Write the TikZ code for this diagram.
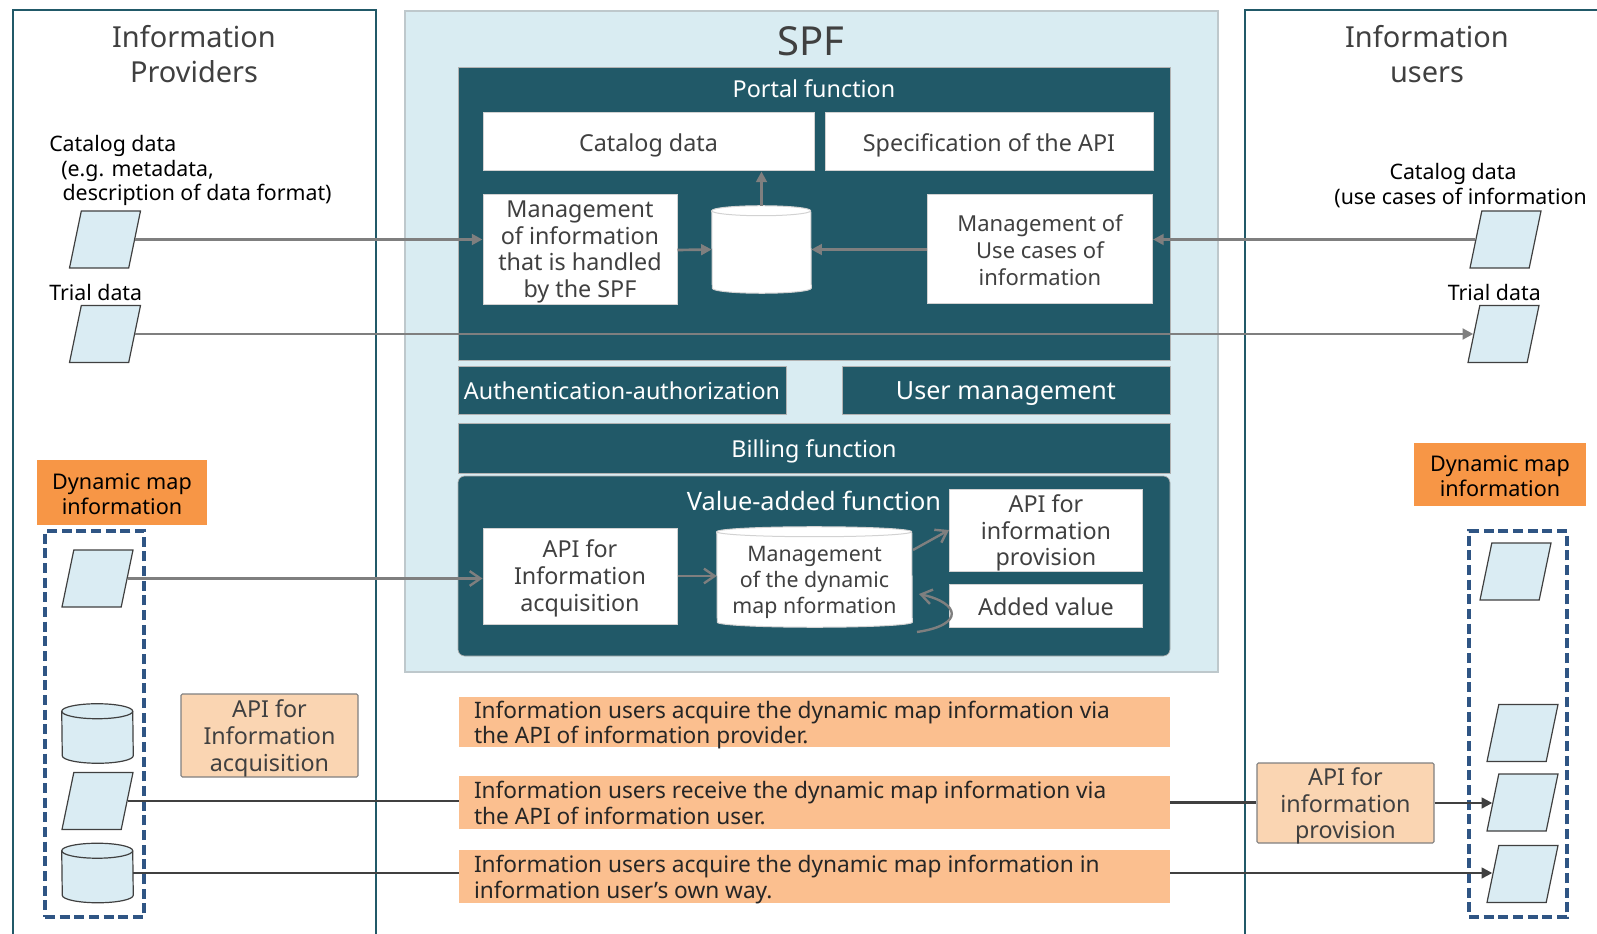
\documentclass[tikz,border=0pt]{standalone}
\usepackage{fontspec}
\setmainfont{Noto Sans}
\usetikzlibrary{arrows.meta,shapes.geometric}
\definecolor{panelteal}{RGB}{33,89,104}
\definecolor{spfblue}{RGB}{217,236,242}
\definecolor{spfedge}{RGB}{190,200,204}
\definecolor{databox}{RGB}{218,236,243}
\definecolor{dashblue}{RGB}{47,85,132}
\definecolor{tagorange}{RGB}{247,150,70}
\definecolor{stripOrange}{RGB}{251,191,143}
\definecolor{peach}{RGB}{250,213,178}
\definecolor{textgrey}{RGB}{64,64,64}
\definecolor{linegrey}{RGB}{127,127,127}
\tikzset{
  boxsize/.style 2 args={minimum width=#1*0.75pt,minimum height=#2*0.75pt,inner sep=0pt},
  evenline/.style={execute at begin node={\rule{0pt}{#1}},execute at end node={\rule[-5pt]{0pt}{5pt}}},
  evenline/.default=20pt,
  txt/.style={font=\fontsize{17.5}{20}\selectfont,align=center,evenline},
  threelines/.style={evenline=58.7pt},
  fourlines/.style={evenline=76.5pt},
  dark/.style 2 args={txt,boxsize={#1}{#2},fill=panelteal,draw=gray!60,line width=0.5pt,text=white},
  whitebox/.style={txt,fill=white,draw=gray!35,line width=0.75pt,text=textgrey},
  heading/.style={font=\fontsize{21.7}{26.5}\selectfont,align=center,text=textgrey},
  label/.style={font=\fontsize{16}{18.4}\selectfont,align=left,text=black,inner sep=0pt},
  datapara/.style={trapezium,trapezium left angle=76,trapezium right angle=104,trapezium stretches=true,
    boxsize={71}{57},inner sep=2pt,fill=databox,draw=black!75,line width=0.9pt},
  datalook/.style={fill=databox,draw=black!75,line width=0.9pt},
  whitelook/.style={fill=white,draw=gray!35,line width=0.75pt},
  tag/.style={txt,evenline=38pt,font=\fontsize{16.2}{18.8}\selectfont,fill=tagorange,text=black},
  strip/.style={boxsize={711}{#1},fill=stripOrange},
  striptext/.style={font=\fontsize{17}{19}\selectfont,align=left,text=black!85,inner xsep=15*0.75pt,inner ysep=0pt,anchor=west,evenline=37.5pt},
  apibox/.style={fill=peach,draw=gray,line width=0.8pt,rounded corners=1pt},
  overtext/.style={txt,threelines,inner sep=0pt,text=textgrey},
  dashbox/.style={draw=dashblue,line width=2.3pt,dash pattern=on 7.5pt off 3.5pt},
  flow/.style={draw=linegrey,line width=2pt,-{Triangle[length=8pt,width=8pt]}},
  open/.style={draw=linegrey,line width=1.8pt,-{Straight Barb[length=8pt,width=11pt]}},
  feed/.style={draw=black!75,line width=1.8pt},
}
\newcommand{\drumpath}[4]{% node, x radius, y radius, look
  \path (#1.north west) ++(0,#3) coordinate (#1top) (#1.south east) ++(0,-#3) coordinate (#1foot);
  \draw [#4] (#1top) arc [start angle=180,delta angle=180,x radius=#2,y radius=#3] -- (#1foot)
    arc [start angle=0,delta angle=180,x radius=#2,y radius=#3] -- cycle;
  \draw [#4,fill=none] (#1top) arc [start angle=180,delta angle=-180,x radius=#2,y radius=#3];
}
\begin{document}
\begin{tikzpicture}[x=0.75pt,y=0.75pt,yscale=-1,xscale=1]
\useasboundingbox (0,0) rectangle (1597,934);

% side panels
\draw [draw=panelteal,line width=2.2pt] (13,934) -- (13,10) -- (376,10) -- (376,934);
\draw [draw=panelteal,line width=2.2pt] (1245,934) -- (1245,10) -- (1597,10);
% SPF
\draw [fill=spfblue,draw=spfedge,line width=1.5pt] (404.5,11) rectangle (1218,672);

% Text Node
\node (spfTitle) [heading,font=\fontsize{30}{32}\selectfont] at (811,41) {SPF};
\node (providersTitle) [heading] at (194,54) {Information\\Providers};
\node (usersTitle) [heading] at (1427,54) {Information\\users};

% portal block
\node (portal) [dark={712}{293}] at (814,213.5) {};
\node (portalTitle) [txt,text=white] at (814,88) {Portal function};
\node (catalogBox) [whitebox,boxsize={331}{58}] at (648.5,142) {Catalog data};
\node (specBox) [whitebox,boxsize={328}{58}] at (989,142) {Specification of the API};
\node (mgmtInfo) [whitebox,fourlines,boxsize={194}{110}] at (580,250) {Management\\of information\\that is handled\\by the SPF};
\node (portalStore) [boxsize={99}{87}] at (761.5,249.5) {};
\drumpath{portalStore}{49.5}{5}{whitelook}
\node (useCases) [whitebox,threelines,boxsize={225}{109},font=\fontsize{16.5}{20}\selectfont] at (1040,249.5) {Management of\\Use cases of\\information};

% middle bars
\node (authBar) [dark={328}{48}] at (622,390) {Authentication-authorization};
\node (userBar) [dark={328}{48},font=\fontsize{18.8}{20}\selectfont] at (1006,390) {User management};
\node (billBar) [dark={712}{50}] at (814,448) {Billing function};

% value-added block
\node (valueBlock) [dark={712}{180},rounded corners=5pt] at (814,566) {};
\node (valueTitle) [txt,text=white,font=\fontsize{19}{20}\selectfont] at (814,500) {Value-added function};
\node (apiAcq) [whitebox,threelines,boxsize={194}{96},font=\fontsize{17.5}{20.5}\selectfont] at (580,576) {API for\\Information\\acquisition};
\node (dynStore) [boxsize={195}{100}] at (814.5,577) {};
\drumpath{dynStore}{97.5}{5}{whitelook}
\node (dynStoreText) [txt,evenline=60.4pt,text=textgrey,font=\fontsize{16}{19.5}\selectfont] at (dynStore) {Management\\of the dynamic\\map nformation};
\node (apiProv) [fill=white,draw=gray!35,line width=0.75pt,boxsize={193}{82}] at (1046,530) {};
\node (apiProvText) [overtext] at (apiProv) {API for\\information\\provision};
\node (addedVal) [whitebox,boxsize={193}{43}] at (1046,605.5) {Added value};

% providers
\node (catalogLeft) [label,anchor=north west] at (49,135) {Catalog data\\\hspace*{9pt}(e.g. metadata,\\\hspace*{10pt}description of data format)};
\node (trialLeft) [label,anchor=west] at (49,293) {Trial data};
\node (paraLeftA) [datapara] at (105,239.5) {};
\node (paraLeftB) [datapara] at (105,334) {};
\node (tagLeft) [tag,boxsize={170}{65}] at (122,492.5) {Dynamic map\\information};
\node (dashLeft) [dashbox,boxsize={99}{386}] at (94.5,724) {};
\node (paraLeftC) [datapara] at (97.5,578.5) {};
\node (cylLeftA) [boxsize={71}{59}] at (97.5,733.5) {};
\drumpath{cylLeftA}{35.5}{7.5}{datalook}
\node (paraLeftD) [datapara] at (97.5,801) {};
\node (cylLeftB) [boxsize={71}{59}] at (97.5,873) {};
\drumpath{cylLeftB}{35.5}{7.5}{datalook}
\node (apiLeft) [apibox,boxsize={177}{83}] at (269.5,735.5) {};
\node (apiLeftText) [overtext] at (apiLeft) {API for\\Information\\acquisition};

% users
\node (catalogRight) [label,align=center] at (1453,174) {Catalog data};
\node (catalogRightB) [label,anchor=east] at (1587,198) {(use cases of information};
\node (trialRight) [label,anchor=east] at (1541,293) {Trial data};
\node (paraRightA) [datapara] at (1505.5,239.5) {};
\node (paraRightB) [datapara] at (1503.5,334) {};
\node (tagRight) [tag,boxsize={172}{63}] at (1500,474.5) {Dynamic map\\information};
\node (dashRight) [dashbox,boxsize={98}{386}] at (1518,724) {};
\node (paraRightC) [datapara] at (1515.5,571.5) {};
\node (paraRightD) [datapara] at (1522.5,733) {};
\node (paraRightE) [datapara] at (1522.5,802.5) {};
\node (paraRightF) [datapara] at (1522.5,874) {};
\node (apiRight) [apibox,boxsize={177}{80}] at (1345.5,803) {};
\node (apiRightText) [overtext] at (apiRight) {API for\\information\\provision};

% orange strips
\node (stripA) [strip=50] at (814.5,722) {};
\node (stripAText) [striptext] at (stripA.west) {Information users acquire the dynamic map information via\\the API of information provider.};
\node (stripB) [strip=53] at (814.5,802.5) {};
\node (stripBText) [striptext] at (stripB.west) {Information users receive the dynamic map information via\\the API of information user.};
\node (stripC) [strip=53] at (814.5,876.5) {};
\node (stripCText) [striptext] at (stripC.west) {Information users acquire the dynamic map information in\\information user's own way.};

% arrows
\coordinate (addedTail) at (917,632);
\coordinate (addedTip) at (919,594);
\coordinate (storeTail) at (913,550);
\draw [flow] (paraLeftA.east) -- (paraLeftA.east -| mgmtInfo.west);
\draw [flow] (paraLeftB.east) -- (paraLeftB.east -| paraRightB.west);
\draw [flow] (paraRightA.west) -- (paraRightA.west -| useCases.east);
\draw [flow] (mgmtInfo.east) -- (portalStore.west);
\draw [flow] (useCases.west) -- (portalStore.east);
\draw [flow] (portalStore.north) -- (portalStore.north |- catalogBox.south);
\draw [open] (paraLeftC.east) -- (paraLeftC.east -| apiAcq.west);
\draw [open] (apiAcq.east) -- (apiAcq.east -| dynStore.west);
\draw [open] (storeTail) -- (apiProv.west);
\draw [open] (addedTail) .. controls (965,625) and (960,603) .. (addedTip);
\draw [feed] (paraLeftD.east) -- (paraLeftD.east -| stripB.west);
\draw [feed] (cylLeftB.east) -- (cylLeftB.east -| stripC.west);
\draw [feed] (stripB.east) -- (stripB.east -| apiRight.west);
\draw [feed,-{Triangle[length=8pt,width=8pt]}] (apiRight.east) -- (apiRight.east -| paraRightE.west);
\draw [feed,-{Triangle[length=8pt,width=8pt]}] (cylLeftB.east -| stripC.east) -- (cylLeftB.east -| paraRightF.west);

\end{tikzpicture}
\end{document}
